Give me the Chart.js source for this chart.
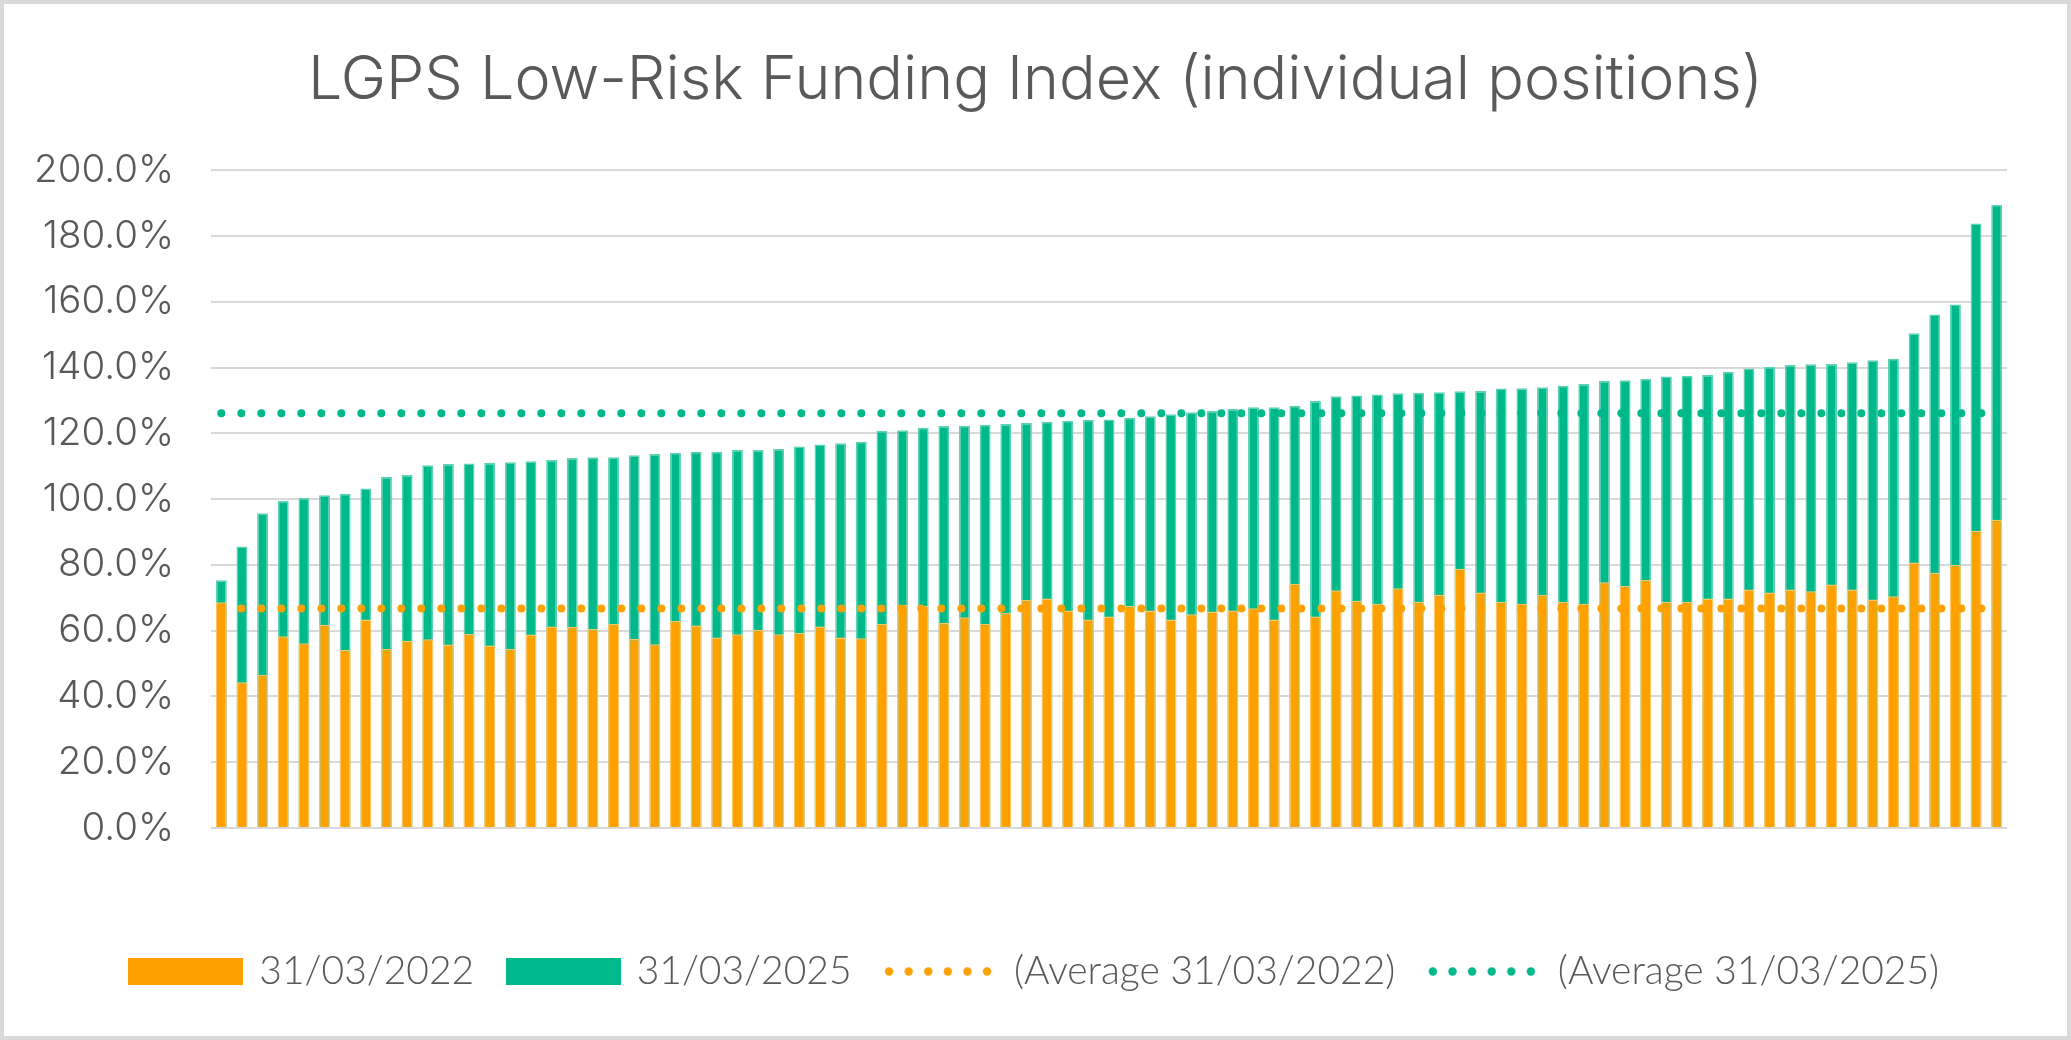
<!DOCTYPE html>
<html>
<head>
<meta charset="utf-8">
<title>LGPS Low-Risk Funding Index</title>
<script src="https://cdn.jsdelivr.net/npm/chart.js@4.4.0/dist/chart.umd.min.js"></script>
<style>
  html, body { margin: 0; padding: 0; background: #fff; }
  #frame { width: 2071px; height: 1040px; box-sizing: border-box; border: 4px solid #d9d9d9; background: #fff; }
  #wrap { position: relative; width: 2063px; height: 1032px; }
</style>
</head>
<body>
<div id="frame"><div id="wrap"><canvas id="fundingChart"></canvas></div></div>
<script>
// ===== Data (funds sorted by 2025 position) =====

const fund2022 = [
  68.6, 44.3, 46.6, 58.3, 56.2, 61.8, 54.1, 63.4, 54.4, 56.9,
  57.4, 55.8, 59.0, 55.5, 54.4, 58.8, 61.3, 61.2, 60.5, 62.0,
  57.5, 55.9, 63.0, 61.6, 57.9, 58.9, 60.3, 58.9, 59.3, 61.3,
  57.9, 57.7, 62.0, 67.8, 67.5, 62.3, 64.1, 62.0, 65.4, 69.3,
  69.8, 66.1, 63.4, 64.3, 67.5, 66.1, 63.4, 65.0, 65.8, 66.1,
  66.8, 63.4, 74.3, 64.3, 72.3, 69.1, 68.2, 72.9, 68.8, 70.9,
  78.8, 71.6, 68.8, 68.2, 70.9, 68.8, 68.2, 74.7, 73.6, 75.4,
  68.8, 68.8, 69.8, 69.8, 72.5, 71.6, 72.5, 72.0, 74.0, 72.5,
  69.5, 70.5, 80.7, 77.6, 80.0, 90.4, 93.7
];

const fund2025 = [
  75.3, 85.6, 95.7, 99.4, 100.3, 101.2, 101.6, 103.2, 106.7, 107.3,
  110.3, 110.7, 110.8, 111.0, 111.2, 111.5, 111.9, 112.5, 112.7, 112.7,
  113.3, 113.7, 114.1, 114.4, 114.4, 114.9, 114.9, 115.2, 116.0, 116.6,
  117.0, 117.4, 120.7, 120.9, 121.7, 122.2, 122.3, 122.6, 122.8, 123.1,
  123.5, 123.8, 124.1, 124.2, 124.7, 125.2, 125.8, 126.4, 126.8, 127.4,
  127.9, 127.9, 128.4, 129.8, 131.3, 131.5, 131.8, 132.2, 132.3, 132.5,
  132.8, 132.9, 133.6, 133.7, 134.0, 134.5, 135.0, 135.9, 136.1, 136.6,
  137.3, 137.5, 137.7, 138.7, 139.7, 140.2, 140.8, 141.0, 141.1, 141.6,
  142.2, 142.7, 150.4, 156.1, 159.2, 183.8, 189.5
];

const average2022 = 66.7;
const average2025 = 126.1;

const seriesNames = ["31/03/2022", "31/03/2025", "(Average 31/03/2022)", "(Average 31/03/2025)"];
const yTicks = [0, 20, 40, 60, 80, 100, 120, 140, 160, 180, 200];

// fund positions have no names on the axis
const funds = fund2025.map((_, i) => i + 1);

const ORANGE = "#ffa100";
const GREEN = "#00b98b";
const TEXT = "#595959";
const FONT = "Lato, 'Open Sans', sans-serif";
const WIDE_FONT = "Inter, Lato, sans-serif";

// ===== Legend icons =====

function boxIcon(color) {
  const c = document.createElement("canvas");
  c.width = 115;
  c.height = 27;
  const g = c.getContext("2d");
  g.fillStyle = color;
  g.fillRect(0, 0, 115, 27);
  return c;
}

function dotsIcon(color) {
  const c = document.createElement("canvas");
  c.width = 115;
  c.height = 27;
  const g = c.getContext("2d");
  g.fillStyle = color;
  for (let i = 0; i < 6; i++) {
    g.beginPath();
    g.arc(6 + i * 19.6, 13.5, 4.2, 0, Math.PI * 2);
    g.fill();
  }
  return c;
}

const legendIcons = [boxIcon(ORANGE), boxIcon(GREEN), dotsIcon(ORANGE), dotsIcon(GREEN)];

// ===== Chart =====

const ctx = document.getElementById("fundingChart").getContext("2d");
const fundingChart = new Chart(ctx, {
  type: "bar",
  data: {
    labels: funds,
    datasets: [
      {
        label: seriesNames[0],
        data: fund2022,
        backgroundColor: ORANGE,
        borderColor: "#ffc563",
        borderWidth: { left: 1.5, right: 1.5, top: 1.5, bottom: 0 },
        grouped: false,
        barPercentage: 0.53,
        categoryPercentage: 1,
        order: 1
      },
      {
        label: seriesNames[1],
        data: fund2025,
        backgroundColor: GREEN,
        borderColor: "#5dd2b3",
        borderWidth: { left: 1.5, right: 1.5, top: 1.5, bottom: 0 },
        grouped: false,
        barPercentage: 0.53,
        categoryPercentage: 1,
        order: 2
      },
      {
        type: "line",
        label: seriesNames[2],
        data: funds.map(() => average2022),
        borderColor: ORANGE,
        backgroundColor: ORANGE,
        borderWidth: 8,
        borderDash: [0, 20],
        borderCapStyle: "round",
        pointRadius: 0,
        fill: false,
        order: 0
      },
      {
        type: "line",
        label: seriesNames[3],
        data: funds.map(() => average2025),
        borderColor: GREEN,
        backgroundColor: GREEN,
        borderWidth: 8,
        borderDash: [0, 20],
        borderCapStyle: "round",
        pointRadius: 0,
        fill: false,
        order: 0
      }
    ]
  },
  options: {
    responsive: true,
    maintainAspectRatio: false,
    animation: false,
    layout: { padding: { left: 27, right: 27, top: 0, bottom: 35 } },
    plugins: {
      title: {
        display: true,
        text: "LGPS Low-Risk Funding Index (individual positions)",
        color: TEXT,
        font: { family: WIDE_FONT, size: 61, weight: "300" },
        padding: { top: 40, bottom: 53 }
      },
      legend: {
        position: "bottom",
        labels: {
          usePointStyle: true,
          pointStyleWidth: 108,
          boxHeight: 27,
          padding: 35,
          color: TEXT,
          font: { family: FONT, size: 39, weight: "300" },
          generateLabels: chart =>
            Chart.defaults.plugins.legend.labels.generateLabels(chart)
              .map(item => ({ ...item, pointStyle: legendIcons[item.datasetIndex] })),
          sort: (a, b) => a.datasetIndex - b.datasetIndex
        }
      },
      tooltip: { enabled: false }
    },
    scales: {
      x: {
        grid: { display: false },
        border: { display: false },
        ticks: { display: false },
        afterFit: s => { s.height = 89; }
      },
      y: {
        min: yTicks[0],
        max: yTicks[yTicks.length - 1],
        afterBuildTicks: s => { s.ticks = yTicks.map(v => ({ value: v })); },
        ticks: {
          callback: v => v.toFixed(1) + "%",
          color: TEXT,
          font: { family: WIDE_FONT, size: 38.5, weight: "300" },
          padding: 37
        },
        grid: { color: "#d9d9d9", lineWidth: 2, drawTicks: false },
        border: { display: false },
        afterFit: s => { s.width = 180; }
      },
      // empty right-hand margin so the plot sits where it does in the reference
      yGap: {
        position: "right",
        grid: { display: false },
        border: { display: false },
        ticks: { display: false },
        afterFit: s => { s.width = 33; }
      }
    }
  }
});
</script>
</body>
</html>
